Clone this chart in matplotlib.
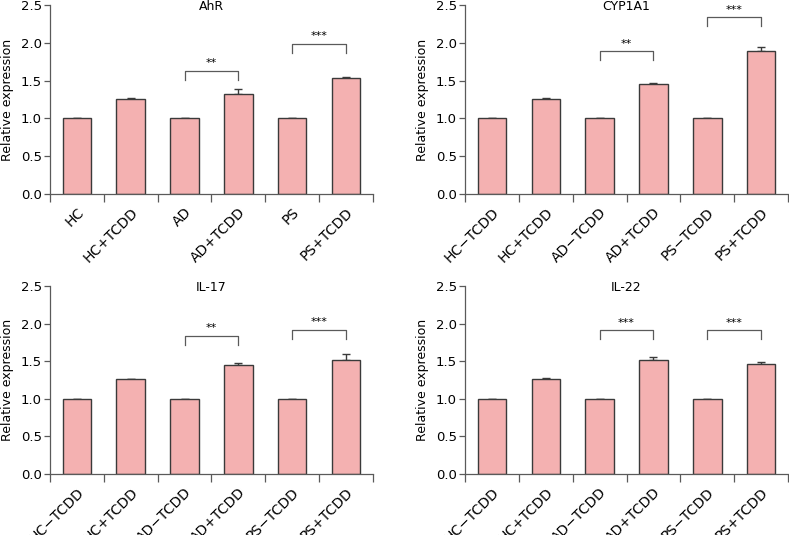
import numpy as np
import matplotlib
matplotlib.use("Agg")
import matplotlib.pyplot as plt
import matplotlib.transforms as mtransforms

plt.rcParams['font.family'] = ['DejaVu Sans']

# ---- data ----
labels_ahr = ["HC", "HC+TCDD", "AD", "AD+TCDD", "PS", "PS+TCDD"]
labels_std = ["HC\u2212TCDD", "HC+TCDD", "AD\u2212TCDD", "AD+TCDD", "PS\u2212TCDD", "PS+TCDD"]

ahr_vals = [1.0, 1.25, 1.0, 1.32, 1.0, 1.53]
ahr_err = [0.0, 0.022, 0.0, 0.065, 0.0, 0.02]
ahr_sig = [(2, 3, 1.63, "**"), (4, 5, 1.99, "***")]

cyp_vals = [1.01, 1.26, 1.01, 1.455, 1.01, 1.895]
cyp_err = [0.0, 0.015, 0.0, 0.015, 0.0, 0.055]
cyp_sig = [(2, 3, 1.89, "**"), (4, 5, 2.34, "***")]

il17_vals = [1.0, 1.26, 1.0, 1.455, 1.0, 1.515]
il17_err = [0.0, 0.008, 0.0, 0.02, 0.0, 0.085]
il17_sig = [(2, 3, 1.84, "**"), (4, 5, 1.92, "***")]

il22_vals = [1.0, 1.265, 1.0, 1.51, 1.0, 1.465]
il22_err = [0.0, 0.013, 0.0, 0.05, 0.0, 0.025]
il22_sig = [(2, 3, 1.91, "***"), (4, 5, 1.91, "***")]

panels = [
    ("AhR", labels_ahr, ahr_vals, ahr_err, ahr_sig, [0.0634, 0.6374, 0.4093, 0.3533]),
    ("CYP1A1", labels_std, cyp_vals, cyp_err, cyp_sig, [0.5894, 0.6374, 0.4093, 0.3533]),
    ("IL-17", labels_std, il17_vals, il17_err, il17_sig, [0.0634, 0.1140, 0.4093, 0.3514]),
    ("IL-22", labels_std, il22_vals, il22_err, il22_sig, [0.5894, 0.1140, 0.4093, 0.3514]),
]

bar_color = "#f4b1b1"
edge_color = "#3a3a3a"
axis_color = "#5a5a5a"

fig = plt.figure(figsize=(7.89, 5.35), dpi=100)
shift = mtransforms.ScaledTranslation(5 / 100, 0, fig.dpi_scale_trans)

for title, labels, vals, err, sig, rect in panels:
    ax = fig.add_axes(rect)
    x = np.arange(len(vals))
    ax.bar(x, vals, width=0.53, color=bar_color, edgecolor=edge_color, linewidth=1.0, zorder=2)
    ax.errorbar(x, vals, yerr=[np.zeros(len(err)), err], fmt="none", ecolor=edge_color,
                elinewidth=1.0, capsize=3, capthick=1.0, zorder=1)

    # significance brackets
    for i, j, y, star in sig:
        ax.plot([i, i, j, j], [y - 0.12, y, y, y - 0.12], color=axis_color, lw=0.9)
        ax.text((i + j) / 2, y + 0.03, star, ha="center", va="bottom", fontsize=8)

    ax.set_xlim(-0.5, len(vals) - 0.5)
    ax.set_ylim(0, 2.5)
    ax.set_yticks([0.0, 0.5, 1.0, 1.5, 2.0, 2.5])
    ax.set_yticklabels(["0.0", "0.5", "1.0", "1.5", "2.0", "2.5"])
    ax.set_xticks(np.arange(len(vals) + 1) - 0.5)
    ax.set_xticklabels([])
    ax.set_xticks(x, minor=True)
    ax.set_xticklabels(labels, minor=True, rotation=45, ha="right", rotation_mode="anchor")
    for lab in ax.get_xticklabels(minor=True):
        lab.set_transform(lab.get_transform() + shift)
    ax.tick_params(axis="x", which="minor", length=0, pad=8, labelsize=10)
    ax.tick_params(axis="x", which="major", length=6, width=0.9, color=axis_color)
    ax.tick_params(axis="y", length=4, width=0.9, color=axis_color, labelsize=9.5, pad=2)

    for s in ["top", "right"]:
        ax.spines[s].set_visible(False)
    for s in ["left", "bottom"]:
        ax.spines[s].set_color(axis_color)
        ax.spines[s].set_linewidth(0.9)

    ax.set_ylabel("Relative expression", fontsize=9, labelpad=5)
    ax.text(2.5, 2.48, title, ha="center", va="center", fontsize=9)

fig.savefig("out.png", dpi=100)
